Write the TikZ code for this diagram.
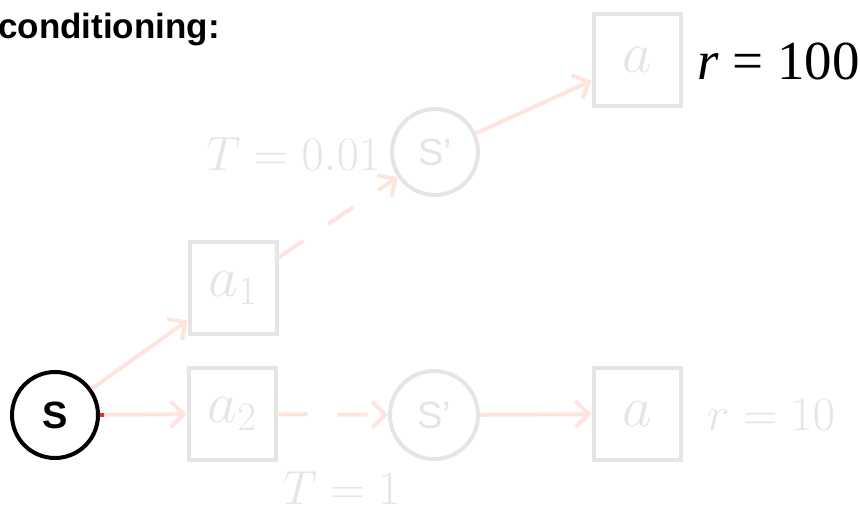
\RequirePackage{fix-cm}
\documentclass[tikz,border=0pt]{standalone}
\usepackage{fontspec}
\newfontfamily\arialfont{Liberation Sans}
\newfontfamily\timesfont{Liberation Serif}
\usetikzlibrary{arrows.meta}
\definecolor{pale}{RGB}{229,229,229}
\definecolor{pink}{RGB}{253,228,223}
\definecolor{redtick}{RGB}{225,50,40}
\tikzset{
  statenode/.style={circle,draw=#1,line width=4pt,minimum size=86pt,inner sep=0pt,font=\arialfont\fontsize{38}{40}\selectfont},
  actbox/.style={rectangle,draw=pale,line width=4pt,minimum width=87pt,minimum height=92pt,inner sep=0pt,text=pale,font=\fontsize{58}{60}\selectfont},
  biglabel/.style={inner sep=0pt,text=pale,font=\fontsize{48}{50}\selectfont},
  link/.style={draw=pink,line width=4pt,-{Straight Barb[length=13pt,width=26pt,line width=4pt]}},
  dashedlink/.style={link,dash pattern=on 30pt off 30pt}
}
\begin{document}
\begin{tikzpicture}[x=1pt,y=-1pt]
\useasboundingbox (0,0) rectangle (860,509);
\node[anchor=base west,inner sep=0pt,font=\arialfont\bfseries\fontsize{35}{37}\selectfont] (title) at (-2,38) {conditioning:};
\node[statenode=black] (s) at (55,415) {\bfseries S};
\node[actbox] (a1) at (233,288) {$a_1$};
\node[actbox] (a2) at (232,414) {$a_2$};
\node[statenode=pale,text=pale] (sp1) at (435,152) {S’};
\node[statenode=pale,text=pale,minimum size=88pt] (sp2) at (434,415) {S’};
\node[actbox] (atop) at (637,60) {$a$};
\node[actbox] (abot) at (637,414) {$a$};
\node[biglabel,anchor=base east] (t1) at (381,170) {$T=0.01$};
\node[biglabel,anchor=base west] (t2) at (283,504) {$T=1$};
\node[biglabel,anchor=base west] (r10) at (707,430) {$r=10$};
\node[anchor=base west,inner sep=0pt,font=\timesfont\fontsize{55}{57}\selectfont] (r100) at (697,79) {\textit{r} = 100};
\draw[link] (s) -- (a1);
\draw[link] (s) -- (a2);
\draw[redtick,line width=4pt] (s.east) -- ++(4,0);
\draw[dashedlink] (a1) -- (sp1);
\draw[dashedlink] (a2) -- (sp2);
\draw[link] (sp1) -- (atop);
\draw[link] (sp2) -- (abot);
\end{tikzpicture}
\end{document}
